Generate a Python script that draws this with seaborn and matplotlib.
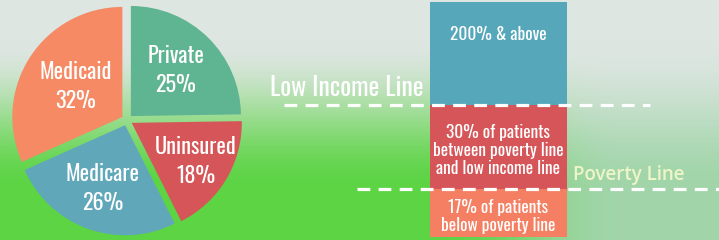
import numpy as np
import matplotlib
matplotlib.use("Agg")
import matplotlib.pyplot as plt
import matplotlib.transforms as mtrans
import seaborn as sns

# payer mix (pie)
payers = ["Private", "Uninsured", "Medicare", "Medicaid"]
payer_share = [25, 18, 26, 32]
payer_colors = ["#5fb491", "#d65558", "#60a7ba", "#f58a65"]

# income groups (stacked bar, bottom to top)
income_labels = ["17% of patients\nbelow poverty line",
                 "30% of patients\nbetween poverty line\nand low income line",
                 "200% & above"]
income_share = [17, 30, 53]
income_colors = ["#f47f62", "#d65558", "#56a7ba"]

sns.set_theme(style="white")
plt.rcParams['font.family'] = ['Oswald', 'DejaVu Sans']

W, H = 719, 240
fig = plt.figure(figsize=(W / 100, H / 100), dpi=100)

# blurred green background
yy, xx = np.mgrid[0:H, 0:W]
t = np.clip((yy - 40) / 150, 0, 1)
t = t * t * (3 - 2 * t)
s = np.clip((xx - 440) / 180, 0, 1)
s = s * s * (3 - 2 * s)
top = np.array([222, 230, 226]) / 255
bot_left = np.array([92, 212, 68]) / 255
bot_right = np.array([135, 206, 145]) / 255
bot = bot_left[None, None, :] * (1 - s[..., None]) + bot_right[None, None, :] * s[..., None]
tt = t[..., None] * (1 - 0.3 * s[..., None])
img = top[None, None, :] * (1 - tt) + bot * tt
bg = fig.add_axes([0, 0, 1, 1])
bg.imshow(img, aspect="auto", interpolation="bilinear")
bg.axis("off")

# pie
px = 1.09
pie_ax = fig.add_axes([7 / W, 0, 240 / W, 1])
wedges, _ = pie_ax.pie(payer_share, colors=payer_colors,
                       startangle=90, counterclock=False,
                       explode=[0.05] * len(payer_share),
                       wedgeprops=dict(linewidth=0))
label_r = [0.63, 0.73, 0.66, 0.56]
for w, name, v, r in zip(wedges, payers, payer_share, label_r):
    ang = np.deg2rad((w.theta1 + w.theta2) / 2)
    pie_ax.text(r * np.cos(ang), r * np.sin(ang), f"{name}\n{v}%",
                color="white", fontsize=16, ha="center", va="center",
                linespacing=1.4)
pie_ax.set_xlim(-px, px)
pie_ax.set_ylim(-px, px)
pie_ax.axis("off")

# stacked bar
scale = 2.8
bar_ax = fig.add_axes([430 / W, 0, 137 / W, 238 / H])
shift = mtrans.ScaledTranslation(0, -3 / 100, fig.dpi_scale_trans)
bottom = 0
for lab, v, c in zip(income_labels, income_share, income_colors):
    bar_ax.bar(0, v, bottom=bottom, width=1, color=c, linewidth=0)
    bar_ax.text(0, bottom + v / 2, lab, ha="center", va="center", color="white",
                fontsize=12.5, fontweight="medium", linespacing=1.05,
                transform=bar_ax.transData + shift)
    bottom += v
bar_ax.set_xlim(-0.5, 0.5)
bar_ax.set_ylim(-3 / scale, 235 / scale)
bar_ax.axis("off")

# threshold lines
ov = fig.add_axes([0, 0, 1, 1])
ov.set_xlim(0, W)
ov.set_ylim(-3 / scale, 237 / scale)
ov.axis("off")
poverty = income_share[0]
low_income = income_share[0] + income_share[1]
ov.plot([284, 650], [low_income, low_income], color="white", lw=2.3, dashes=(4, 2.6))
ov.plot([357, 719], [poverty, poverty], color="white", lw=2.3, dashes=(4, 2.6))
ov.text(270, low_income + 3.3, "Low Income Line", color="white", fontsize=18.5,
        ha="left", va="baseline")
ov.text(573, poverty + 5.2, "Poverty Line", color="#eef5c8", fontsize=13.5,
        fontweight="semibold", family=["Open Sans", "DejaVu Sans"],
        ha="left", va="center")

fig.savefig("out.png", dpi=100)
